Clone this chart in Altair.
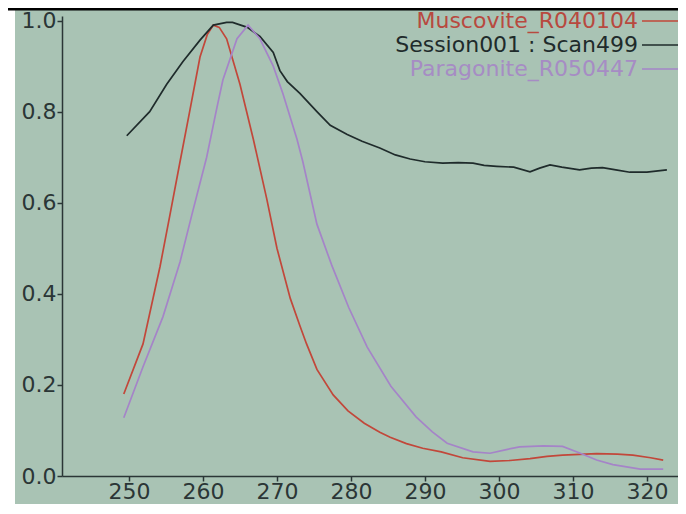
import altair as alt
import pandas as pd

series_names = ["Muscovite_R040104", "Session001 : Scan499", "Paragonite_R050447"]
series_colors = ["#c2473a", "#1f2b2b", "#a584c8"]

musc_x = [249.3, 251.9, 254.2, 255.5, 256.9, 258.2, 259.6, 260.6, 261.4, 262.2, 263.2, 265.0, 266.8,
          268.6, 270.0, 271.8, 273.1, 274.0, 275.4, 277.6, 279.6, 281.8, 283.9, 285.3, 287.5, 289.7,
          292.2, 295.1, 298.8, 301.5, 304.2, 306.5, 308.6, 313.2, 316.0, 318.1, 320.5, 322.2]
musc_y = [0.18, 0.29, 0.46, 0.57, 0.69, 0.80, 0.92, 0.97, 0.99, 0.985, 0.96, 0.86, 0.74,
          0.61, 0.50, 0.39, 0.33, 0.29, 0.234, 0.178, 0.143, 0.116, 0.096, 0.085, 0.071, 0.061,
          0.053, 0.040, 0.032, 0.034, 0.038, 0.043, 0.046, 0.049, 0.048, 0.046, 0.040, 0.035]

scan_x = [249.7, 252.8, 255.1, 257.3, 259.6, 261.4, 263.2, 264.0, 266.0, 267.7, 269.5, 270.4, 271.4,
          273.1, 275.4, 277.2, 279.5, 281.5, 283.9, 286.0, 288.0, 290.0, 292.4, 294.5, 296.5, 298.0,
          299.7, 302.0, 304.2, 305.5, 306.9, 308.5, 310.9, 312.5, 314.0, 315.8, 317.7, 320.0, 321.5, 322.7]
scan_y = [0.747, 0.80, 0.86, 0.91, 0.957, 0.99, 0.996, 0.996, 0.985, 0.965, 0.93, 0.89, 0.866,
          0.84, 0.80, 0.77, 0.75, 0.735, 0.72, 0.705, 0.696, 0.69, 0.687, 0.688, 0.687, 0.682,
          0.68, 0.678, 0.668, 0.676, 0.683, 0.678, 0.672, 0.676, 0.677, 0.672, 0.667, 0.667, 0.670, 0.672]

para_x = [249.3, 251.9, 254.6, 256.9, 258.6, 260.5, 261.9, 262.7, 264.6, 266.1, 267.7, 269.5, 270.8,
          272.7, 273.5, 275.4, 277.4, 279.7, 282.2, 285.4, 288.8, 291.0, 293.0, 296.5, 298.8, 301.0,
          302.8, 306.0, 308.6, 311.0, 313.2, 315.4, 319.1, 322.2]
para_y = [0.128, 0.24, 0.35, 0.47, 0.58, 0.70, 0.81, 0.87, 0.96, 0.99, 0.96, 0.90, 0.84,
          0.74, 0.69, 0.553, 0.463, 0.37, 0.283, 0.197, 0.13, 0.097, 0.072, 0.053, 0.05, 0.058,
          0.064, 0.066, 0.065, 0.05, 0.035, 0.025, 0.015, 0.015]

x_ticks = [250, 260, 270, 280, 290, 300, 310, 320]
y_ticks = [0.0, 0.2, 0.4, 0.6, 0.8, 1.0]

rows = []
for name, xs, ys in [(series_names[0], musc_x, musc_y),
                     (series_names[1], scan_x, scan_y),
                     (series_names[2], para_x, para_y)]:
    for i, (a, b) in enumerate(zip(xs, ys)):
        rows.append({"series": name, "x": a, "y": b, "order": i})
df = pd.DataFrame(rows)

axis_color = "#2b3636"
label_expr = ("datum.label == 'Muscovite_R040104' ? '#b8493f' : "
              "datum.label == 'Paragonite_R050447' ? '#a68cc4' : '#1f2b2b'")

W, H = 616, 460
TOP = 8

lines = alt.Chart(df).mark_line(strokeWidth=1.7, clip=True).encode(
    x=alt.X("x:Q",
            scale=alt.Scale(domain=[240.95, 324.2], nice=False, zero=False),
            axis=alt.Axis(values=x_ticks, title=None, grid=False, format="d",
                          domainColor=axis_color, domainWidth=1.5,
                          tickColor=axis_color, tickWidth=1.5, tickSize=5,
                          labelFont="DejaVu Sans", labelFontSize=22, labelColor=axis_color,
                          labelPadding=0)),
    y=alt.Y("y:Q",
            scale=alt.Scale(domain=[0, 1.01], nice=False),
            axis=alt.Axis(values=y_ticks, title=None, grid=False, format=".1f",
                          domainColor=axis_color, domainWidth=1.5,
                          tickColor=axis_color, tickWidth=1.5, tickSize=5,
                          labelFont="DejaVu Sans", labelFontSize=22, labelColor=axis_color,
                          labelPadding=1)),
    color=alt.Color("series:N",
                    scale=alt.Scale(domain=series_names, range=series_colors),
                    sort=series_names,
                    legend=alt.Legend(orient="none", legendX=587, legendY=-6, title=None,
                                      symbolType="M-3,0H3", symbolSize=144,
                                      symbolStrokeWidth=1.5,
                                      labelAlign="right", labelOffset=alt.ExprRef("-33"),
                                      labelFont="DejaVu Sans", labelFontSize=22,
                                      labelColor=alt.ExprRef(label_expr),
                                      labelLimit=0, rowPadding=2, padding=0)),
    order="order:Q",
)

one = pd.DataFrame({"a": [0]})
top_bar = alt.Chart(one).mark_rule(color="#000000", strokeWidth=3).encode(
    x=alt.value(-54), x2=alt.value(W), y=alt.value(-TOP + 1))
left_strip = alt.Chart(one).mark_rule(color="#ffffff", strokeWidth=7).encode(
    x=alt.value(-50.5), y=alt.value(-TOP), y2=alt.value(H + 30))

chart = alt.layer(left_strip, top_bar, lines).properties(
    width=W, height=H,
    autosize=alt.AutoSizeParams(type="none"),
    padding={"left": 54, "top": TOP, "right": 0, "bottom": 28},
    background="#a9c3b4",
).configure_view(stroke=None)

chart.save("out.html", embed_options={"renderer": "svg", "actions": False})
